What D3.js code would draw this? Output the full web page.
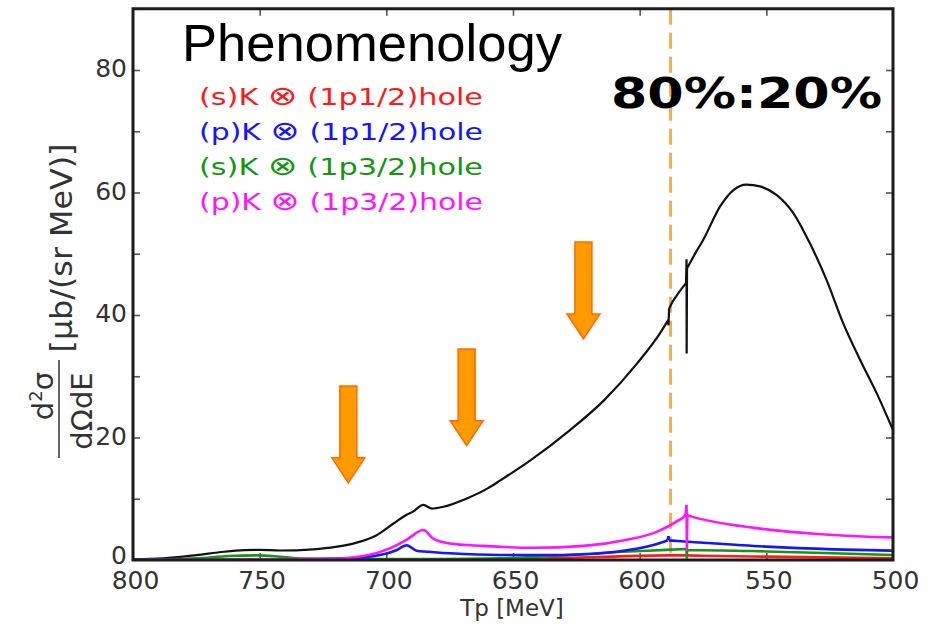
<!DOCTYPE html>
<html>
<head>
<meta charset="utf-8">
<script src="https://cdn.jsdelivr.net/npm/d3@7"></script>
<style>
  html, body { margin: 0; padding: 0; background: #ffffff; }
  svg { display: block; }
</style>
</head>
<body>
<svg id="chart" width="931" height="628"></svg>
<script>
// Proton kinetic energy Tp [MeV] and double-differential cross sections [μb/(sr MeV)]
const totalTp = [800, 788, 775, 764, 756, 750, 742, 729, 720, 712, 704, 697, 692, 689.5, 685.4, 682, 677.5, 668, 660, 655, 643, 627.5, 614, 601, 592, 588.7, 588.6, 588.4, 587.5, 585, 581.7, 581.5, 581.45, 581.3, 578, 575, 568.3, 563, 557.8, 552.5, 546, 539.3, 532.8, 526.2, 519.6, 513, 506.4, 500];
const totalVal = [0.1, 0.27, 0.8, 1.35, 1.6, 1.65, 1.55, 1.75, 2.15, 2.8, 4.0, 6.0, 7.4, 7.9, 9.0, 8.4, 8.7, 10.1, 11.7, 13.0, 16.3, 21.2, 26.1, 32.1, 37.0, 39.2, 38.3, 41.0, 41.8, 43.4, 45.2, 49.1, 33.7, 47.6, 50.1, 52.2, 57.7, 60.4, 61.3, 61.0, 59.6, 56.6, 51.7, 45.7, 38.6, 32.7, 27.2, 21.2];

const sP12Tp = [800, 700, 660, 642, 616, 589.4, 581.3, 576, 550, 500];
const sP12Val = [0.0, 0.02, 0.05, 0.2, 0.5, 0.76, 0.75, 0.7, 0.55, 0.27];

const pP12Tp = [800, 740, 720, 710, 702.5, 696, 692, 688, 684, 675, 655, 629, 609, 594.6, 589, 588.6, 588.4, 585, 576, 550, 523.6, 500];
const pP12Val = [0.0, 0.05, 0.2, 0.4, 0.8, 1.6, 2.4, 1.5, 1.35, 1.1, 0.82, 0.82, 1.36, 2.45, 3.2, 3.9, 3.2, 3.1, 2.85, 2.18, 1.74, 1.52];

const sP32Tp = [800, 788, 775, 762, 751, 742, 733, 709, 680, 655, 629, 609, 589.4, 581.5, 581.4, 581.3, 576, 550, 524, 500];
const sP32Val = [0.0, 0.1, 0.27, 0.65, 0.76, 0.54, 0.22, 0.15, 0.15, 0.27, 0.8, 1.3, 1.65, 1.8, 0.2, 1.6, 1.6, 1.4, 1.1, 0.82];

const pP32Tp = [800, 750, 722, 709, 698.6, 692, 685.4, 681.5, 675, 662, 642, 622, 605, 593.3, 585.4, 582, 581.5, 581.35, 581.2, 578.8, 563, 550, 530, 510, 500];
const pP32Val = [0.0, 0.1, 0.2, 0.65, 1.9, 3.3, 4.9, 3.5, 2.7, 2.3, 2.0, 2.3, 3.3, 4.6, 6.3, 7.35, 9.0, 1.5, 7.3, 7.0, 5.7, 5.0, 4.24, 3.8, 3.7];

const legendPre = ["(s)K ", "(p)K ", "(s)K ", "(p)K "];
const legendPost = [" (1p1/2)hole", " (1p1/2)hole", " (1p3/2)hole", " (1p3/2)hole"];
const seriesColors = ["#ff1a1a", "#1414ff", "#149614", "#ff14ff"];

const xTicks = [800, 750, 700, 650, 600, 550, 500];
const yTicks = [0, 10, 20, 30, 40, 50, 60, 70, 80, 90];
const yLabelled = [0, 20, 40, 60, 80];

// threshold marker and arrows (Tp position, arrow tail value, arrow tip value)
const thresholdTp = 587.8;
const arrowTp = [715.0, 668.3, 622.2];
const arrowTail = [28.4, 34.45, 51.9];
const arrowTip = [12.6, 18.66, 36.1];

const svg = d3.select("#chart");
const plotLeft = 133, plotRight = 893, plotTop = 8.75, plotBottom = 560;

const x = d3.scaleLinear().domain([800, 500]).range([plotLeft, plotRight]);
const y = d3.scaleLinear().domain([0, 90]).range([plotBottom, plotTop]);

svg.append("rect").attr("width", 931).attr("height", 628).attr("fill", "#ffffff");

svg.append("defs").append("clipPath").attr("id", "plotClip")
  .append("rect").attr("x", plotLeft).attr("y", plotTop)
  .attr("width", plotRight - plotLeft).attr("height", plotBottom - plotTop);

const tickFont = "DejaVu Sans, Verdana, sans-serif";

// axes with inward ticks on all four sides
const gBottom = svg.append("g").attr("transform", `translate(0,${plotBottom})`)
  .call(d3.axisBottom(x).tickValues(xTicks).tickSizeInner(-7).tickSizeOuter(0).tickPadding(10).tickFormat(d3.format("d")));
const gTop = svg.append("g").attr("transform", `translate(0,${plotTop})`)
  .call(d3.axisTop(x).tickValues(xTicks).tickSizeInner(-7).tickSizeOuter(0).tickFormat(""));
const gLeft = svg.append("g").attr("transform", `translate(${plotLeft},0)`)
  .call(d3.axisLeft(y).tickValues(yTicks).tickSizeInner(-7).tickSizeOuter(0).tickPadding(6)
    .tickFormat(d => yLabelled.includes(d) ? d : ""));
const gRight = svg.append("g").attr("transform", `translate(${plotRight},0)`)
  .call(d3.axisRight(y).tickValues(yTicks).tickSizeInner(-7).tickSizeOuter(0).tickFormat(""));

[gBottom, gTop, gLeft, gRight].forEach(g => {
  g.select(".domain").remove();
  g.selectAll(".tick line").attr("stroke", "#555").attr("stroke-width", 1.6);
  g.selectAll(".tick text").attr("fill", "#333").style("font-family", tickFont).style("font-size", "25px");
});
gBottom.selectAll(".tick text").attr("dy", "0.76em").attr("dx", 2);
gLeft.selectAll(".tick text").attr("dy", d => d === 0 ? "0.12em" : "0.27em");
gTop.selectAll(".tick").filter(d => d === 800 || d === 500).remove();
gBottom.selectAll(".tick line").filter(d => d === 800 || d === 500).remove();
gRight.selectAll(".tick").filter(d => d === 0).remove();
gLeft.selectAll(".tick line").filter(d => d === 0).remove();

// threshold line
svg.append("line")
  .attr("x1", x(thresholdTp)).attr("x2", x(thresholdTp))
  .attr("y1", plotTop).attr("y2", plotBottom)
  .attr("stroke", "#f7a23c").attr("stroke-width", 3)
  .attr("stroke-dasharray", "16,8").attr("opacity", 0.9);

// curves: smooth runs use a monotone spline, near-vertical threshold jumps stay straight
const smooth = d3.line().x(d => x(d[0])).y(d => y(d[1])).curve(d3.curveMonotoneX);
const straight = d3.line().x(d => x(d[0])).y(d => y(d[1]));
const zipSeries = (t, v) => t.map((d, i) => [d, v[i]]);
const seriesPath = pts => {
  const isJump = i => Math.abs(pts[i + 1][0] - pts[i][0]) < 0.5;
  let d = "", run = [pts[0]];
  for (let i = 0; i < pts.length - 1; i++) {
    if (isJump(i)) {
      if (run.length > 1) d += smooth(run);
      d += straight([pts[i], pts[i + 1]]);
      run = [pts[i + 1]];
    } else {
      run.push(pts[i + 1]);
    }
  }
  if (run.length > 1) d += smooth(run);
  return d;
};

const plot = svg.append("g").attr("clip-path", "url(#plotClip)");
plot.append("path").attr("d", seriesPath(zipSeries(totalTp, totalVal)))
  .attr("fill", "none").attr("stroke", "#111").attr("stroke-width", 2.2)
  .attr("stroke-linejoin", "round");

const partials = [[sP12Tp, sP12Val], [sP32Tp, sP32Val], [pP12Tp, pP12Val], [pP32Tp, pP32Val]];
const partialColors = [seriesColors[0], seriesColors[2], seriesColors[1], seriesColors[3]];
partials.forEach((s, i) => {
  plot.append("path").attr("d", seriesPath(zipSeries(s[0], s[1])))
    .attr("fill", "none").attr("stroke", partialColors[i]).attr("stroke-width", 2.6)
    .attr("stroke-linejoin", "round");
});

// frame
svg.append("rect").attr("x", plotLeft).attr("y", plotTop)
  .attr("width", plotRight - plotLeft).attr("height", plotBottom - plotTop)
  .attr("fill", "none").attr("stroke", "#1c1c1c").attr("stroke-width", 3);

// block arrows
const arrowShape = (t, a, b) => {
  const cx = x(t), y0 = y(a), y1 = y(b);
  const sw = 8.5, hw = 16.5, hl = 25;
  return `M${cx - sw},${y0} L${cx + sw},${y0} L${cx + sw},${y1 - hl} L${cx + hw},${y1 - hl} L${cx},${y1} L${cx - hw},${y1 - hl} L${cx - sw},${y1 - hl} Z`;
};
svg.append("g").selectAll("path").data(arrowTp).join("path")
  .attr("d", (d, i) => arrowShape(d, arrowTail[i], arrowTip[i]))
  .attr("fill", "#ff9a00").attr("stroke", "#ff6a00").attr("stroke-width", 1.5);

// titles and legend
svg.append("text").attr("x", 182).attr("y", 61)
  .attr("textLength", 380).attr("lengthAdjust", "spacingAndGlyphs")
  .style("font-family", "Liberation Sans, Arial, sans-serif").style("font-size", "52px")
  .attr("fill", "#000").text("Phenomenology");

svg.append("text").attr("x", 611).attr("y", 108)
  .attr("textLength", 271).attr("lengthAdjust", "spacingAndGlyphs")
  .style("font-family", "DejaVu Sans, Verdana, sans-serif").style("font-size", "43px").style("font-weight", "bold")
  .attr("fill", "#000").text("80%:20%");

const legend = svg.append("g").selectAll("text").data(legendPre).join("text")
  .attr("x", 199).attr("y", (d, i) => 105 + i * 35)
  .attr("textLength", 284).attr("lengthAdjust", "spacingAndGlyphs")
  .style("font-family", "DejaVu Sans, Verdana, sans-serif").style("font-size", "23px")
  .attr("fill", (d, i) => seriesColors[i]);
legend.append("tspan").text(d => d);
legend.append("tspan").style("font-size", "27px").text("\u2297");
legend.append("tspan").text((d, i) => legendPost[i]);

// axis titles
svg.append("text").attr("x", 512).attr("y", 616).attr("text-anchor", "middle")
  .style("font-family", tickFont).style("font-size", "23px").attr("fill", "#333").text("Tp [MeV]");

const yl = svg.append("g").attr("transform", "rotate(-90)")
  .style("font-family", "DejaVu Sans, sans-serif").attr("fill", "#333");
yl.append("text").attr("x", -248).attr("y", 72).attr("text-anchor", "middle")
  .attr("textLength", 209).attr("lengthAdjust", "spacingAndGlyphs")
  .style("font-size", "30px").text("[\u03bcb/(sr MeV)]");
const num = yl.append("text").attr("x", -396).attr("y", 53).attr("text-anchor", "middle").style("font-size", "29px");
num.append("tspan").text("d");
num.append("tspan").attr("dy", -11).style("font-size", "18px").text("2");
num.append("tspan").attr("dy", 11).text("\u03c3");
yl.append("line").attr("x1", -458).attr("x2", -360).attr("y1", 59).attr("y2", 59)
  .attr("stroke", "#333").attr("stroke-width", 1.5);
yl.append("text").attr("x", -411).attr("y", 92).attr("text-anchor", "middle")
  .style("font-size", "29px").text("d\u03a9dE");
</script>
</body>
</html>
